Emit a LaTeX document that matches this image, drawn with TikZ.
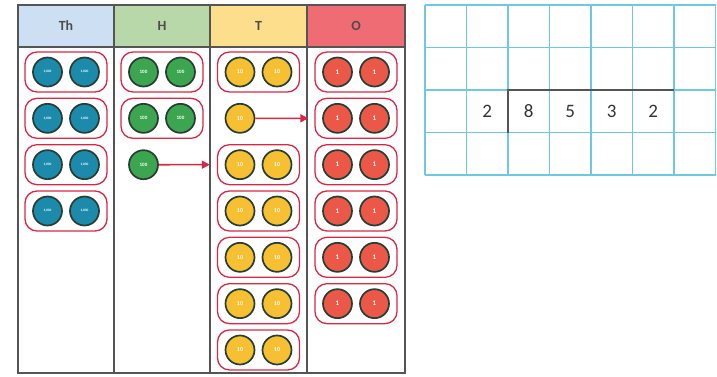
\documentclass[tikz,border=0pt]{standalone}
\usepackage{fontspec}
\setmainfont{Carlito}
\usetikzlibrary{arrows.meta, positioning, calc}
\definecolor{headTh}{RGB}{205,224,243}
\definecolor{headH}{RGB}{184,216,170}
\definecolor{headT}{RGB}{253,222,140}
\definecolor{headO}{RGB}{240,108,116}
\definecolor{ctrTh}{RGB}{28,138,170}
\definecolor{ctrH}{RGB}{60,165,80}
\definecolor{ctrT}{RGB}{246,192,50}
\definecolor{ctrO}{RGB}{235,88,72}
\definecolor{ctrEdge}{RGB}{40,62,52}
\definecolor{pillred}{RGB}{214,40,70}
\definecolor{gridblue}{RGB}{110,200,225}
\definecolor{tableline}{RGB}{85,85,85}

\begin{document}
\begin{tikzpicture}[x=1pt, y=-1pt,
    head/.style={draw=tableline, line width=1.5pt, fill=#1},
    hlabel/.style={font=\bfseries\fontsize{14}{14}\selectfont, text=black!70},
    ctr/.style={circle, draw=ctrEdge, line width=1.7pt, fill=#1, minimum size=29pt,
                inner sep=0pt, text=white, font=\bfseries\fontsize{5}{5}\selectfont},
    pill/.style={draw=pillred, line width=1.3pt, rounded corners=12pt,
                 minimum width=82pt, minimum height=40pt},
    arr/.style={-{Triangle[length=8pt,width=8pt]}, line width=1.6pt, pillred},
    digit/.style={font=\fontsize{19}{19}\selectfont, text=black!80}
  ]
    \useasboundingbox (0,0) rectangle (717,376);

    % Place value table
    \node[head=headTh, minimum width=96pt, minimum height=42pt, inner sep=0pt] (hTh) at (66,26) {};
    \node[head=headH,  minimum width=96pt, minimum height=42pt, inner sep=0pt] (hH)  at (162,26) {};
    \node[head=headT,  minimum width=97pt, minimum height=42pt, inner sep=0pt] (hT)  at (258.5,26) {};
    \node[head=headO,  minimum width=98pt, minimum height=42pt, inner sep=0pt] (hO)  at (356,26) {};
    \node[hlabel] at (hTh) {Th};
    \node[hlabel] at (hH)  {H};
    \node[hlabel] at (hT)  {T};
    \node[hlabel] at (hO)  {O};
    \draw[tableline, line width=1.5pt] (18,5) rectangle (405,373);
    \foreach \xx in {114,210,307}
      \draw[tableline, line width=1.5pt] (\xx,5) -- (\xx,373);

    % Thousands
    \foreach \r in {1,...,4} {
      \pgfmathsetmacro\yy{72+46.33*(\r-1)}
      \node[pill] (thp\r) at (66,\yy) {};
      \node[ctr=ctrTh, font=\bfseries\fontsize{3.5}{4}\selectfont] (th\r a) at (47.5,\yy) {1,000};
      \node[ctr=ctrTh, font=\bfseries\fontsize{3.5}{4}\selectfont] (th\r b) at (84.5,\yy) {1,000};
    }

    % Hundreds
    \foreach \r in {1,2} {
      \pgfmathsetmacro\yy{72+46.33*(\r-1)}
      \node[pill] (hp\r) at (162,\yy) {};
      \node[ctr=ctrH] (h\r a) at (143.5,\yy) {100};
      \node[ctr=ctrH] (h\r b) at (180.5,\yy) {100};
    }
    \node[ctr=ctrH] (h5) at (143.5,164.7) {100};

    % Tens
    \foreach \r in {1,3,4,5,6,7} {
      \pgfmathsetmacro\yy{72+46.33*(\r-1)}
      \node[pill] (tp\r) at (258.5,\yy) {};
      \node[ctr=ctrT, font=\bfseries\fontsize{6}{6}\selectfont] (t\r a) at (240,\yy) {10};
      \node[ctr=ctrT, font=\bfseries\fontsize{6}{6}\selectfont] (t\r b) at (277,\yy) {10};
    }
    \node[ctr=ctrT, font=\bfseries\fontsize{6}{6}\selectfont] (t13) at (240,118.3) {10};

    % Ones
    \foreach \r in {1,...,6} {
      \pgfmathsetmacro\yy{72+46.33*(\r-1)}
      \node[pill] (op\r) at (356,\yy) {};
      \node[ctr=ctrO, font=\bfseries\fontsize{7}{7}\selectfont] (o\r a) at (337.5,\yy) {1};
      \node[ctr=ctrO, font=\bfseries\fontsize{7}{7}\selectfont] (o\r b) at (374.5,\yy) {1};
    }

    % Exchange arrows
    \draw[arr, shorten >=7pt] (h5.east) -- (tp3.west);
    \draw[arr, shorten >=6pt] (t13.east) -- (op2.west);

    % Squared paper
    \draw[gridblue, line width=1.2pt, xstep=41.5pt, ystep=42.5pt, shift={(425,5)}]
      (0,0) grid (290.5,170);

    % Division
    \foreach \d [count=\i from 1] in {2,8,5,3,2}
      \node[digit] (d\i) at ({425+41.5*(\i+0.5)},111.5) {\d};
    \coordinate (brTop) at (508,90);
    \coordinate (brBot) at (508,132.5);
    \coordinate (brEnd) at (674,90);
    \draw[tableline, line width=1.4pt] (brBot) -- (brTop) -- (brEnd);

  \end{tikzpicture}
\end{document}
